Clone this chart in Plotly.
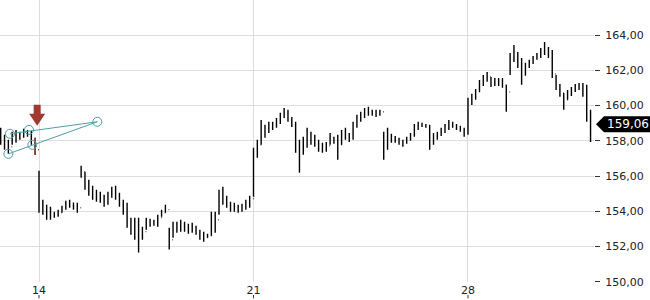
import pandas as pd
import plotly.graph_objects as go

# ---- data (3-hour bars) ----
start_time = "2024-03-12 18:00"
high = [158.74,158.34,158.06,158.51,158.62,158.51,158.68,158.62,158.57,158.17,
        156.30,154.65,154.37,154.26,153.97,154.09,154.31,154.60,154.65,154.48,
        154.48,156.58,156.24,155.79,155.45,155.22,155.11,154.94,155.11,155.39,
        155.45,155.05,154.65,154.48,153.63,153.63,153.63,153.12,153.63,153.57,
        153.52,153.80,154.09,154.37,153.06,153.40,153.40,153.52,153.40,153.29,
        153.35,153.18,152.95,152.84,152.72,153.97,153.97,155.22,155.39,154.88,
        154.54,154.48,154.37,154.43,154.65,154.88,157.60,158.06,159.19,158.91,
        159.08,159.08,159.30,159.59,159.87,159.76,159.36,159.08,158.06,158.23,
        158.74,158.51,158.34,158.06,157.89,157.94,158.45,158.23,158.34,158.62,
        158.74,158.45,159.08,159.48,159.65,159.87,159.93,159.76,159.76,159.76,
        158.51,158.74,158.40,158.28,158.17,158.06,158.23,158.45,158.96,159.08,
        159.02,158.96,158.91,158.45,158.51,158.74,158.96,159.19,159.08,158.96,
        158.85,158.74,160.44,160.67,160.95,161.46,161.74,161.91,161.63,161.57,
        161.57,161.57,161.18,162.99,163.45,163.05,162.71,162.43,162.60,162.82,
        162.99,163.28,163.62,163.33,163.16,161.74,161.23,160.72,160.89,161.06,
        161.23,161.29,161.29,161.18,159.76]
low = [157.77,157.49,157.26,157.77,157.89,158.06,158.17,158.23,157.77,157.21,
       153.91,153.80,153.52,153.52,153.63,153.69,153.91,154.09,154.20,154.09,
       153.91,155.90,155.22,154.88,154.65,154.54,154.48,154.26,154.37,154.77,
       154.65,154.26,153.80,153.06,152.67,152.38,151.65,152.38,152.95,153.12,
       153.18,153.12,153.69,153.91,151.82,152.50,152.78,152.84,152.84,152.72,
       152.78,152.67,152.38,152.27,152.50,152.61,152.78,153.80,154.37,154.20,
       153.97,153.97,153.91,153.97,154.09,154.20,154.82,157.04,157.77,158.17,
       158.45,158.62,158.74,158.96,159.30,159.08,158.79,157.32,156.18,157.21,
       157.60,157.77,157.66,157.38,157.32,157.38,157.77,157.83,156.92,157.77,
       158.06,157.94,158.06,158.74,159.08,159.30,159.42,159.42,159.36,159.42,
       156.92,157.49,157.89,157.89,157.77,157.66,157.83,158.00,158.23,158.62,
       158.79,158.74,157.49,157.77,158.06,158.28,158.45,158.62,158.74,158.62,
       158.51,158.23,158.34,160.04,160.33,160.78,161.12,161.35,161.06,161.12,
       161.12,161.01,159.65,161.74,162.48,162.14,161.18,161.69,162.14,162.37,
       162.60,162.71,162.88,162.71,161.57,160.89,160.50,159.76,160.33,160.55,
       160.78,160.89,160.50,159.08,157.94]
close = [158.17,157.77,157.66,158.23,158.34,158.45,158.40,158.51,158.06,157.49,
         154.37,154.20,153.86,153.74,153.80,153.91,154.20,154.37,154.48,154.31,
         154.20,156.24,155.62,155.22,154.99,154.88,154.77,154.65,154.88,155.22,
         154.88,154.48,154.09,153.40,153.06,153.18,152.84,152.84,153.40,153.29,
         153.35,153.63,153.91,154.09,152.38,153.06,153.18,153.29,153.06,153.01,
         152.95,152.84,152.61,152.50,152.61,153.63,153.52,154.94,154.65,154.43,
         154.20,154.14,154.09,154.20,154.37,154.71,157.38,157.77,158.74,158.51,
         158.79,158.85,159.13,159.42,159.70,159.30,158.96,157.77,157.49,157.94,
         158.34,158.06,157.94,157.72,157.55,157.72,158.17,158.06,157.77,158.34,
         158.23,158.17,158.85,159.19,159.48,159.65,159.70,159.59,159.53,159.65,
         157.77,158.34,158.11,158.06,157.94,157.89,158.06,158.28,158.74,158.91,
         158.91,158.85,157.89,158.17,158.34,158.57,158.79,158.96,158.91,158.79,
         158.68,158.40,160.21,160.38,160.78,161.18,161.46,161.63,161.35,161.40,
         161.29,161.18,160.78,162.71,162.88,162.48,162.03,162.26,162.43,162.65,
         162.82,163.05,163.16,163.05,161.80,161.12,160.72,160.33,160.61,160.84,
         161.01,161.12,160.89,159.48,159.06]
first_open = 158.30
highlight_index = 9

x_tick_dates = ["2024-03-14", "2024-03-21", "2024-03-28"]
x_tick_labels = ["14", "21", "28"]
y_tick_values = [150, 152, 154, 156, 158, 160, 162, 164]
last_price = 159.06
last_price_label = "159,06"

# drawing tool (wedge) points
wedge_upper_x = ["2024-03-13 01:15", "2024-03-15 21:40"]
wedge_upper_y = [158.40, 159.08]
wedge_lower_x = ["2024-03-13 00:00", "2024-03-15 21:40"]
wedge_lower_y = [157.26, 159.08]
wedge_pts_x = ["2024-03-13 01:15", "2024-03-13 16:10", "2024-03-13 18:45",
               "2024-03-13 00:00", "2024-03-15 21:40"]
wedge_pts_y = [158.40, 158.62, 157.77, 157.26, 159.08]

# ---- build ----
times = pd.date_range(start=start_time, periods=len(close), freq="3h")
opens = [first_open] + close[:-1]

fig = go.Figure()
fig.add_trace(go.Ohlc(
    x=times, open=opens, high=high, low=low, close=close,
    increasing=dict(line=dict(color="black", width=1.4)),
    decreasing=dict(line=dict(color="black", width=1.4)),
    tickwidth=0.15, hoverinfo="skip", showlegend=False))

ht = times[highlight_index]
fig.add_trace(go.Scatter(x=[ht, ht], y=[low[highlight_index], high[highlight_index]],
                         mode="lines", line=dict(color="#a0392e", width=1.6),
                         hoverinfo="skip", showlegend=False))

teal = "#4f9fa8"
fig.add_trace(go.Scatter(x=wedge_upper_x, y=wedge_upper_y, mode="lines",
                         line=dict(color=teal, width=1), hoverinfo="skip", showlegend=False))
fig.add_trace(go.Scatter(x=wedge_lower_x, y=wedge_lower_y, mode="lines",
                         line=dict(color=teal, width=1), hoverinfo="skip", showlegend=False))
fig.add_trace(go.Scatter(x=wedge_pts_x, y=wedge_pts_y, mode="markers",
                         marker=dict(symbol="circle-open", size=9, color=teal, line=dict(width=1)),
                         hoverinfo="skip", showlegend=False))

shapes = []
# red down arrow above highlighted bar
shapes.append(dict(type="path", xref="x", yref="y", xsizemode="pixel", ysizemode="pixel",
                   xanchor=ht, yanchor=high[highlight_index],
                   path="M 2,12 L -6,24 L -1.5,24 L -1.5,33 L 5.5,33 L 5.5,24 L 10,24 Z",
                   fillcolor="#a0392e", line=dict(width=0), layer="above"))
# last price tag
shapes.append(dict(type="path", xref="paper", yref="y", xsizemode="pixel", ysizemode="pixel",
                   xanchor=1, yanchor=last_price,
                   path="M 2,-2 L 10,6 L 60,6 L 60,-10 L 10,-10 Z",
                   fillcolor="black", line=dict(width=0), layer="above"))
# x tick marks below labels
for d in x_tick_dates:
    shapes.append(dict(type="line", xref="x", yref="paper", x0=d, x1=d, y0=-0.046, y1=-0.058,
                       line=dict(color="#333", width=1)))

fig.update_layout(
    width=650, height=300,
    margin=dict(l=0, r=56, t=0, b=18),
    paper_bgcolor="white", plot_bgcolor="white",
    separators=",.",
    showlegend=False,
    hovermode=False,
    shapes=shapes,
    annotations=[dict(xref="paper", yref="y", x=1, y=last_price, xanchor="left", yanchor="middle",
                      xshift=11, yshift=-2, text=last_price_label, showarrow=False,
                      font=dict(family="DejaVu Sans", size=12, color="white"))],
    font=dict(family="DejaVu Sans", size=11, color="#222"),
)
fig.update_xaxes(
    type="date", range=["2024-03-12 17:27", "2024-04-01 02:42"],
    rangeslider=dict(visible=False),
    tickvals=x_tick_dates, ticktext=x_tick_labels,
    showgrid=True, gridcolor="#dedede", gridwidth=1,
    zeroline=False, showline=False, ticks="",
    tickfont=dict(size=11, color="#222"),
)
fig.update_yaxes(
    side="right", range=[149.98, 166],
    tickvals=y_tick_values, tickformat=".2f",
    showgrid=True, gridcolor="#dedede", gridwidth=1,
    zeroline=False, showline=False,
    ticks="outside", ticklen=5, tickcolor="#333",
    ticklabelstandoff=3,
    tickfont=dict(size=11, color="#222"),
)

fig.write_html("out.html", config={"displayModeBar": False})
